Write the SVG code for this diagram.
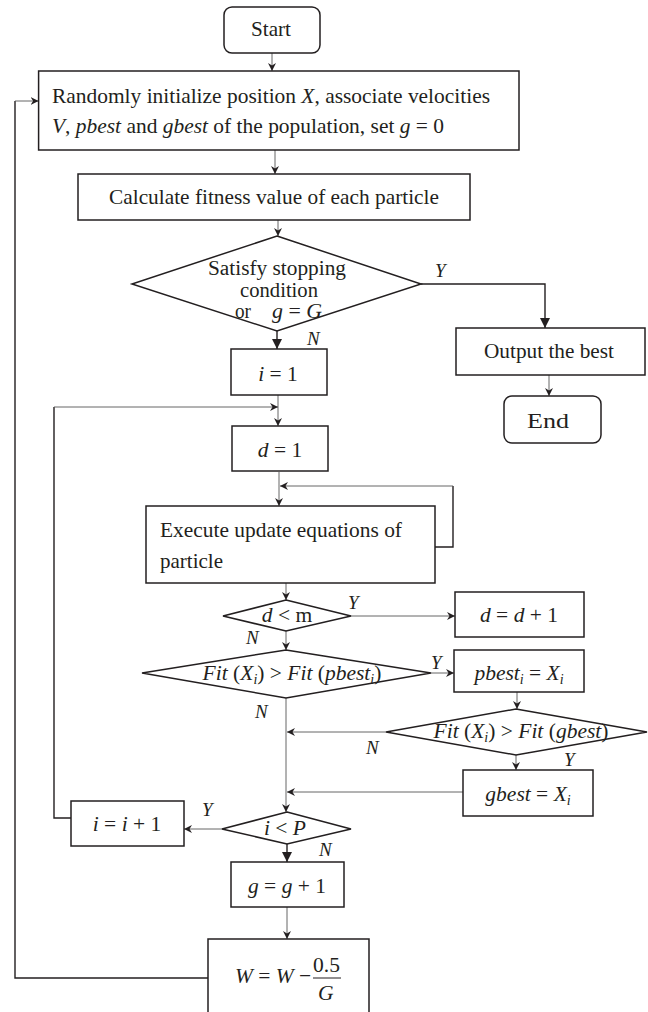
<svg xmlns="http://www.w3.org/2000/svg" width="648" height="1012" viewBox="0 0 648 1012">
<style>
.box{fill:#fff;stroke:#231f20;stroke-width:1.5}
.t{font-family:"Liberation Serif","Times New Roman",serif;font-size:21.5px;fill:#231f20}
.s{font-size:20px}
.c{text-anchor:middle}
.i{font-style:italic}
.lbl{font-family:"Liberation Serif","Times New Roman",serif;font-size:19px;font-style:italic;fill:#231f20}
.thin{fill:none;stroke:#555;stroke-width:0.9}
.dark{fill:none;stroke:#231f20;stroke-width:1.4}
</style>
<defs>
<marker id="a" markerUnits="userSpaceOnUse" markerWidth="9" markerHeight="8" refX="8" refY="4" orient="auto">
<path d="M0,0 L8,4 L0,8 L2.5,4 z" fill="#231f20"/>
</marker>
<marker id="b" markerUnits="userSpaceOnUse" markerWidth="11" markerHeight="10" refX="10" refY="5" orient="auto">
<path d="M0,0 L10,5 L0,10 z" fill="#231f20"/>
</marker>
</defs>
<rect width="648" height="1012" fill="#fff"/>
<g id="connectors">
<line class="thin" x1="272" y1="53" x2="272" y2="71" marker-end="url(#a)"/>
<line class="thin" x1="275" y1="150" x2="275" y2="174" marker-end="url(#a)"/>
<line class="thin" x1="278" y1="220" x2="278" y2="236" marker-end="url(#a)"/>
<polyline class="dark" points="421,284 545,284 545,328" marker-end="url(#b)"/>
<line class="thin" x1="549" y1="375" x2="549" y2="396" marker-end="url(#a)"/>
<line class="dark" x1="277" y1="331" x2="277" y2="349" marker-end="url(#b)"/>
<line class="thin" x1="278" y1="395" x2="278" y2="426" marker-end="url(#a)"/>
<polyline class="dark" points="71,818 54,818 54,407"/>
<line class="thin" x1="54" y1="407" x2="278" y2="407" marker-end="url(#a)"/>
<line class="thin" x1="279" y1="472" x2="279" y2="506" marker-end="url(#a)"/>
<polyline class="dark" points="435,547 453,547 453,486"/>
<line class="thin" x1="453" y1="486" x2="280" y2="486" marker-end="url(#a)"/>
<line class="thin" x1="286" y1="583" x2="286" y2="600" marker-end="url(#a)"/>
<line class="thin" x1="351" y1="616" x2="455" y2="616" marker-end="url(#a)"/>
<line class="thin" x1="286" y1="631" x2="286" y2="650" marker-end="url(#a)"/>
<line class="thin" x1="431" y1="673" x2="454" y2="673" marker-end="url(#a)"/>
<line class="thin" x1="517" y1="692" x2="517" y2="709" marker-end="url(#a)"/>
<line class="thin" x1="286" y1="698" x2="286" y2="812" marker-end="url(#a)"/>
<line class="thin" x1="386" y1="732" x2="287" y2="732" marker-end="url(#a)"/>
<line class="thin" x1="516" y1="755" x2="516" y2="770" marker-end="url(#a)"/>
<line class="thin" x1="463" y1="792" x2="287" y2="792" marker-end="url(#a)"/>
<line class="thin" x1="222" y1="829" x2="184" y2="829" marker-end="url(#a)"/>
<line class="dark" x1="287" y1="844" x2="287" y2="862" marker-end="url(#b)"/>
<line class="thin" x1="287" y1="907" x2="287" y2="939" marker-end="url(#a)"/>
<polyline class="dark" points="208,978 15,978 15,101"/>
<line class="thin" x1="15" y1="101" x2="38.6" y2="101" marker-end="url(#a)"/>
<text class="lbl" x="435" y="277">Y</text>
<text class="lbl" x="307" y="345">N</text>
<text class="lbl" x="348" y="609">Y</text>
<text class="lbl" x="246" y="644">N</text>
<text class="lbl" x="431" y="669">Y</text>
<text class="lbl" x="255" y="718">N</text>
<text class="lbl" x="366" y="754">N</text>
<text class="lbl" x="564" y="766">Y</text>
<text class="lbl" x="202" y="816">Y</text>
<text class="lbl" x="319" y="856">N</text>
</g>
<g id="start">
<rect class="box" x="224" y="7" width="96" height="46" rx="8"/>
<text class="t" x="251" y="36" textLength="40" lengthAdjust="spacingAndGlyphs">Start</text>
</g>
<g id="init">
<rect class="box" x="38.6" y="71" width="480.4" height="79"/>
<text class="t" x="52" y="102.5" textLength="438" lengthAdjust="spacingAndGlyphs">Randomly initialize position <tspan class="i">X</tspan>, associate velocities</text>
<text class="t" x="52" y="133" textLength="392" lengthAdjust="spacingAndGlyphs"><tspan class="i">V</tspan>, <tspan class="i">pbest</tspan> and <tspan class="i">gbest</tspan> of the population, set <tspan class="i">g</tspan> = 0</text>
</g>
<g id="calc">
<rect class="box" x="78" y="174" width="392" height="46"/>
<text class="t" x="109" y="204" textLength="330" lengthAdjust="spacingAndGlyphs">Calculate fitness value of each particle</text>
</g>
<g id="stop">
<polygon class="box" points="277,236 421,284 277,331 132,284"/>
<text class="t s" x="208" y="275" textLength="138" lengthAdjust="spacingAndGlyphs">Satisfy stopping</text>
<text class="t s" x="240" y="297" textLength="78" lengthAdjust="spacingAndGlyphs">condition</text>
<text class="t s" x="235" y="318" textLength="16" lengthAdjust="spacingAndGlyphs">or</text>
<text class="t s i" x="272" y="318" textLength="50" lengthAdjust="spacingAndGlyphs">g <tspan font-style="normal">=</tspan> G</text>
</g>
<g id="output">
<rect class="box" x="456" y="328" width="189" height="47"/>
<text class="t" x="484" y="358" textLength="130" lengthAdjust="spacingAndGlyphs">Output the best</text>
</g>
<g id="end">
<rect class="box" x="504" y="396" width="97" height="47" rx="8"/>
<text class="t" x="527" y="428" textLength="42" lengthAdjust="spacingAndGlyphs">End</text>
</g>
<g id="i1">
<rect class="box" x="231" y="349" width="96" height="46"/>
<text class="t c" x="278" y="381"><tspan class="i">i</tspan> = 1</text>
</g>
<g id="d1">
<rect class="box" x="232" y="426" width="96" height="45"/>
<text class="t c" x="280" y="457"><tspan class="i">d</tspan> = 1</text>
</g>
<g id="exec">
<rect class="box" x="146" y="506" width="289" height="77"/>
<text class="t" x="160" y="537" textLength="242" lengthAdjust="spacingAndGlyphs">Execute update equations of</text>
<text class="t" x="160" y="568" textLength="63" lengthAdjust="spacingAndGlyphs">particle</text>
</g>
<g id="dm">
<polygon class="box" points="286,600 351,616 286,631 223,616"/>
<text class="t c" x="287" y="622"><tspan class="i">d</tspan> &lt; m</text>
</g>
<g id="dd1">
<rect class="box" x="455" y="592" width="129" height="45"/>
<text class="t c" x="519" y="622"><tspan class="i">d</tspan> = <tspan class="i">d</tspan> + 1</text>
</g>
<g id="fitp">
<polygon class="box" points="286,650 431,673 286,698 142,673"/>
<text class="t i c" x="292" y="680"><tspan>Fit</tspan><tspan font-style="normal"> (</tspan>X<tspan font-size="14" dy="4">i</tspan><tspan font-style="normal" dy="-4">) &gt; </tspan>Fit<tspan font-style="normal"> (</tspan>pbest<tspan font-size="14" dy="4">i</tspan><tspan font-style="normal" dy="-4">)</tspan></text>
</g>
<g id="pbest">
<rect class="box" x="454" y="650" width="130" height="42"/>
<text class="t i c" x="519" y="680">pbest<tspan font-size="14" dy="4">i</tspan><tspan font-style="normal" dy="-4"> = </tspan>X<tspan font-size="14" dy="4">i</tspan></text>
</g>
<g id="fitg">
<polygon class="box" points="516,709 647,732 516,755 386,732"/>
<text class="t i c" x="521" y="738">Fit<tspan font-style="normal"> (</tspan>X<tspan font-size="14" dy="4">i</tspan><tspan font-style="normal" dy="-4">) &gt; </tspan>Fit<tspan font-style="normal"> (</tspan>gbest<tspan font-style="normal">)</tspan></text>
</g>
<g id="gbest">
<rect class="box" x="463" y="770" width="130" height="46"/>
<text class="t i c" x="528" y="801">gbest<tspan font-style="normal"> = </tspan>X<tspan font-size="14" dy="4">i</tspan></text>
</g>
<g id="ip">
<polygon class="box" points="287,812 351,829 287,844 222,829"/>
<text class="t c i" x="285" y="835">i <tspan font-style="normal">&lt;</tspan> P</text>
</g>
<g id="ii1">
<rect class="box" x="71" y="801" width="113" height="45"/>
<text class="t c" x="127" y="831"><tspan class="i">i</tspan> = <tspan class="i">i</tspan> + 1</text>
</g>
<g id="gg1">
<rect class="box" x="231" y="862" width="113" height="45"/>
<text class="t c" x="287" y="893"><tspan class="i">g</tspan> = <tspan class="i">g</tspan> + 1</text>
</g>
<g id="w">
<path class="box" d="M208,1014 V939 H369 V1014"/>
<text class="t" x="235" y="983"><tspan class="i">W</tspan> = <tspan class="i">W</tspan> −</text>
<text class="t" x="313" y="972">0.5</text>
<line x1="313" y1="978" x2="341" y2="978" stroke="#231f20" stroke-width="1"/>
<text class="t i" x="318" y="1000">G</text>
</g>
</svg>
